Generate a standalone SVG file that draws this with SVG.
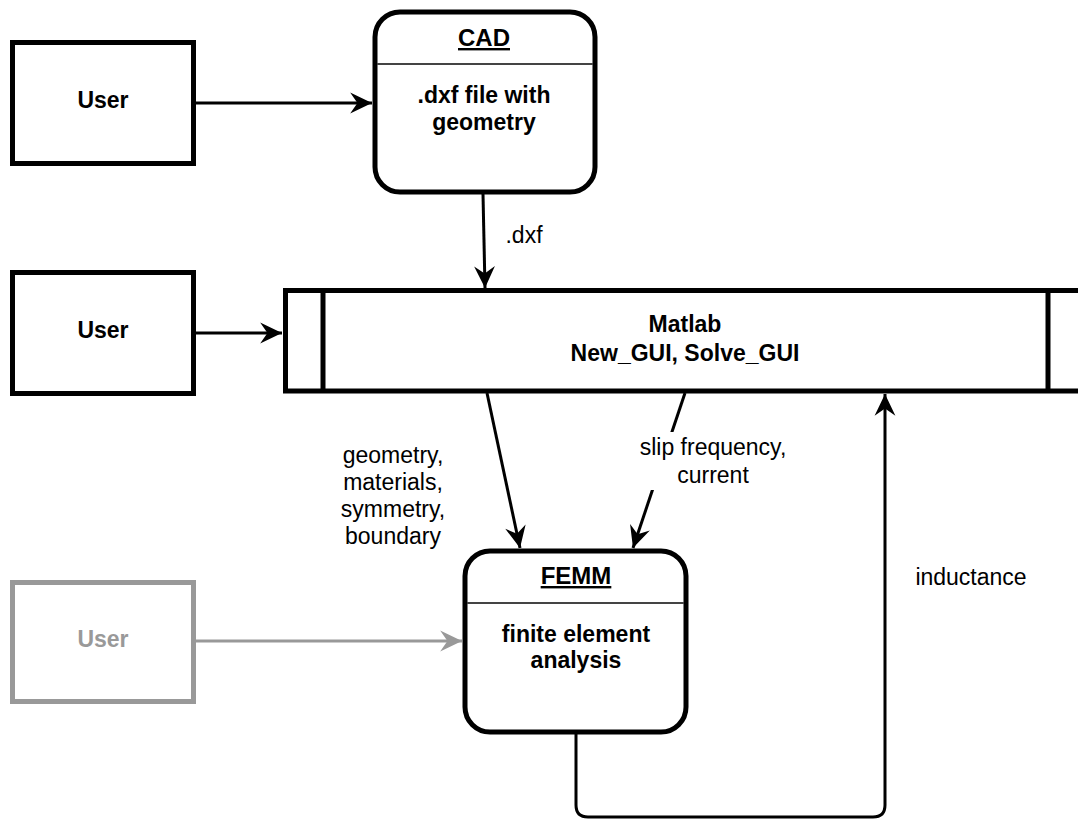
<svg xmlns="http://www.w3.org/2000/svg" width="1078" height="819" viewBox="0 0 1078 819">
<style>
.box{fill:#fff;stroke:#000;stroke-width:5}
.gbox{fill:#fff;stroke:#999;stroke-width:5}
.div{stroke:#444;stroke-width:2}
.conn{fill:none;stroke:#000;stroke-width:3}
.gconn{fill:none;stroke:#999;stroke-width:3}
.b{font-family:"Liberation Sans",Arial,sans-serif;font-weight:bold;font-size:23px;text-anchor:middle;fill:#000}
.t{font-family:"Liberation Sans",Arial,sans-serif;font-weight:bold;font-size:24px;text-anchor:middle;fill:#000;text-decoration:underline}
.l{font-family:"Liberation Sans",Arial,sans-serif;font-size:23px;text-anchor:middle;fill:#000}
</style>
<defs>
<marker id="ah" markerUnits="userSpaceOnUse" markerWidth="26" markerHeight="26" viewBox="-23 -12 25 24" refX="0" refY="0" orient="auto">
<path d="M0,0 L-21,-10 L-14,0 L-21,10 Z" fill="#000"/>
</marker>
<marker id="gah" markerUnits="userSpaceOnUse" markerWidth="26" markerHeight="26" viewBox="-23 -12 25 24" refX="0" refY="0" orient="auto">
<path d="M0,0 L-21,-10 L-14,0 L-21,10 Z" fill="#999"/>
</marker>
</defs>
<rect width="1078" height="819" fill="#fff"/>
<g id="connectors">
<line class="conn" x1="196" y1="103" x2="372" y2="103" marker-end="url(#ah)"/>
<line class="conn" x1="483" y1="194" x2="485" y2="288" marker-end="url(#ah)"/>
<line class="conn" x1="196" y1="333" x2="282" y2="333" marker-end="url(#ah)"/>
<line class="conn" x1="487" y1="393" x2="520" y2="548" marker-end="url(#ah)"/>
<line class="conn" x1="685" y1="393" x2="633" y2="548" marker-end="url(#ah)"/>
<line class="gconn" x1="196" y1="641" x2="462" y2="641" marker-end="url(#gah)"/>
<path class="conn" d="M576,734 L576,805 Q576,817 588,817 L873,817 Q885,817 885,805 L885,394" marker-end="url(#ah)"/>
<text class="l" x="524" y="243">.dxf</text>
<text class="l" x="393" y="463">geometry,</text>
<text class="l" x="393" y="490">materials,</text>
<text class="l" x="393" y="517">symmetry,</text>
<text class="l" x="393" y="544">boundary</text>
<rect x="630" y="432" width="166" height="58" fill="#fff"/>
<text class="l" x="713" y="455">slip frequency,</text>
<text class="l" x="713" y="483">current</text>
<text class="l" x="971" y="585">inductance</text>
</g>
<g id="user1">
<rect class="box" x="12.5" y="42.5" width="181" height="121"/>
<text class="b" x="103" y="108">User</text>
</g>
<g id="user2">
<rect class="box" x="12.5" y="272.5" width="181" height="121"/>
<text class="b" x="103" y="338">User</text>
</g>
<g id="user3">
<rect class="gbox" x="12.5" y="582.5" width="181" height="119"/>
<text class="b" x="103" y="647" style="fill:#999">User</text>
</g>
<g id="cad">
<rect class="box" x="375" y="12" width="220" height="180" rx="25"/>
<line class="div" x1="377" y1="64" x2="593" y2="64"/>
<text class="t" x="484" y="46">CAD</text>
<text class="b" x="484" y="103">.dxf file with</text>
<text class="b" x="484" y="130">geometry</text>
</g>
<g id="matlab">
<rect class="box" x="285.5" y="290.5" width="800" height="100.5"/>
<line class="box" x1="323" y1="290.5" x2="323" y2="391"/>
<line class="box" x1="1048" y1="290.5" x2="1048" y2="391"/>
<text class="b" x="685" y="332">Matlab</text>
<text class="b" x="685" y="361">New_GUI, Solve_GUI</text>
</g>
<g id="femm">
<rect class="box" x="465" y="551" width="221" height="181" rx="25"/>
<line class="div" x1="467" y1="603" x2="684" y2="603"/>
<text class="t" x="576" y="584">FEMM</text>
<text class="b" x="576" y="642">finite element</text>
<text class="b" x="576" y="668">analysis</text>
</g>
</svg>
